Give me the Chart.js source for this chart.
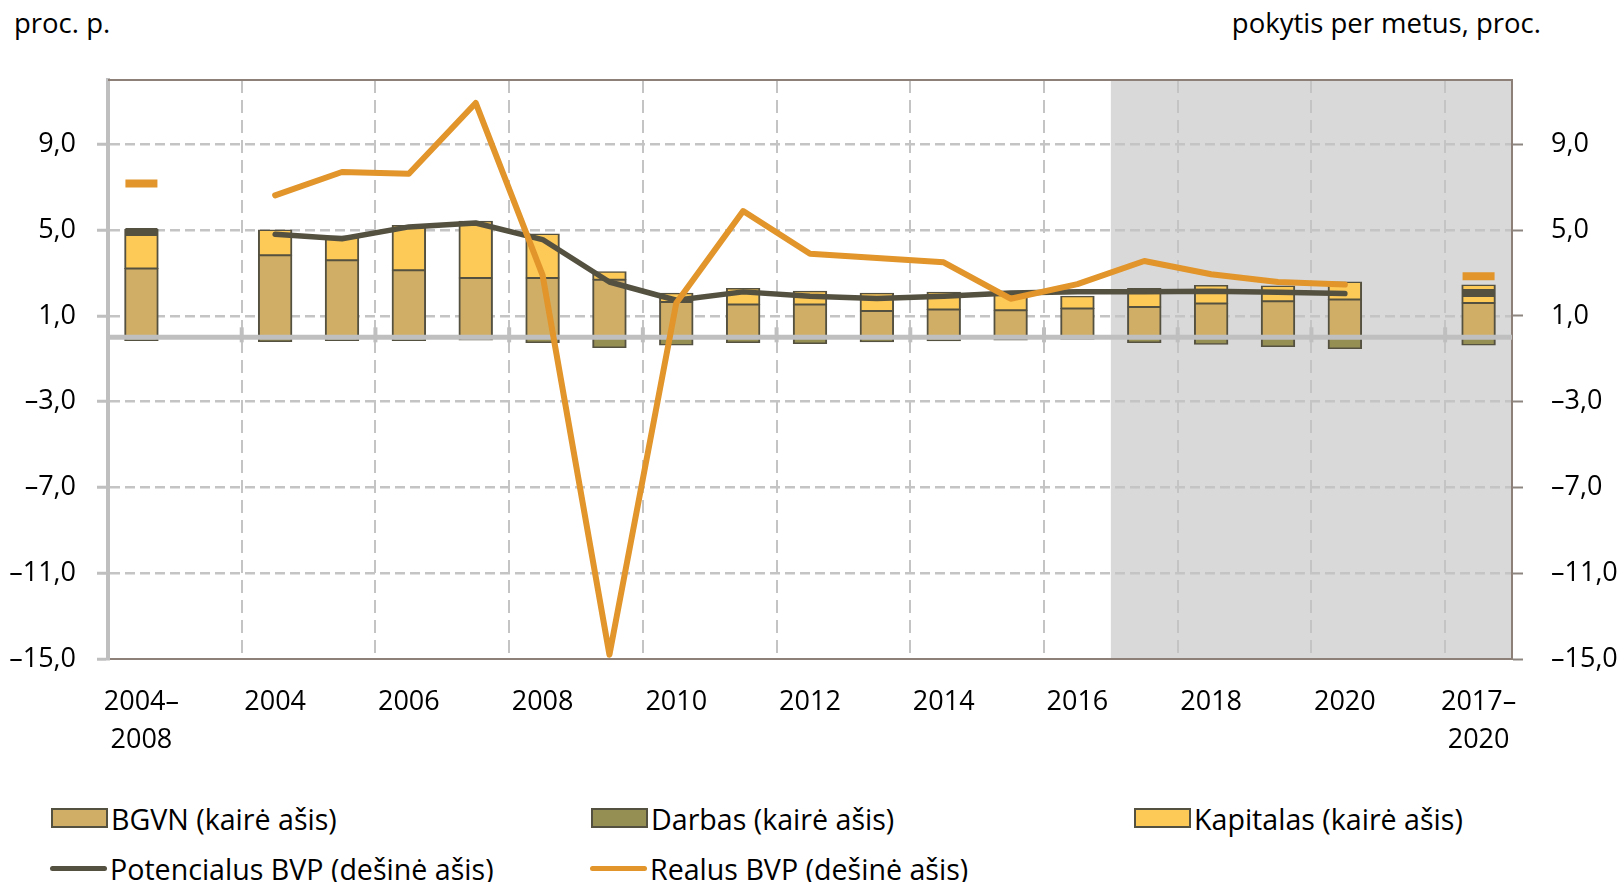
<!DOCTYPE html>
<html>
<head>
<meta charset="utf-8">
<script src="https://cdn.jsdelivr.net/npm/chart.js@4.4.1/dist/chart.umd.min.js"></script>
<style>
  html, body { margin: 0; padding: 0; background: #fff; }
  body { width: 1624px; height: 882px; position: relative; overflow: hidden; font-family: 'Open Sans', sans-serif; color: #000; }
  #chart { position: absolute; left: 0; top: 0; }
  .unit { position: absolute; font-size: 27.5px; line-height: 38px; top: 4px; white-space: nowrap; }
  .item { position: absolute; height: 38px; font-size: 28.6px; display: flex; align-items: center; white-space: nowrap; }
  .box { width: 53px; height: 16px; border: 2px solid #545141; margin-right: 3px; }
  .stroke { width: 57px; height: 5px; border-radius: 3px; margin-right: 3px; }
</style>
</head>
<body>
<div class="unit" style="left:14px">proc. p.</div>
<div class="unit" style="right:83px">pokytis per metus, proc.</div>
<canvas id="chart" width="1624" height="780"></canvas>

<div class="item" style="left:51px;top:799px"><div class="box" style="background:#D0AE66"></div>BGVN (kairė ašis)</div>
<div class="item" style="left:591px;top:799px"><div class="box" style="background:#968F53"></div>Darbas (kairė ašis)</div>
<div class="item" style="left:1134px;top:799px"><div class="box" style="background:#FDC957"></div>Kapitalas (kairė ašis)</div>
<div class="item" style="left:50px;top:849px"><div class="stroke" style="background:#545141"></div>Potencialus BVP (dešinė ašis)</div>
<div class="item" style="left:590px;top:849px"><div class="stroke" style="background:#E1952B"></div>Realus BVP (dešinė ašis)</div>

<script>
const categories = [['2004–', '2008'], '', '2004', '2005', '2006', '2007', '2008', '2009', '2010',
    '2011', '2012', '2013', '2014', '2015', '2016', '2017', '2018', '2019', '2020', '', ['2017–', '2020']];

const bgvn      = [3.21, null, 3.83, 3.59, 3.13, 2.77, 2.77, 2.69, 1.65, 1.53, 1.53, 1.23, 1.30, 1.26, 1.34, 1.42, 1.58, 1.68, 1.76, null, 1.60];
const darbas    = [-0.15, null, -0.19, -0.15, -0.15, -0.13, -0.24, -0.47, -0.36, -0.24, -0.29, -0.21, -0.16, -0.12, -0.09, -0.24, -0.32, -0.43, -0.52, null, -0.36];
const kapitalas = [1.82, null, 1.17, 1.13, 2.08, 2.64, 2.05, 0.37, 0.40, 0.75, 0.62, 0.82, 0.80, 0.85, 0.58, 0.86, 0.84, 0.71, 0.82, null, 0.84];

const potencialus = [4.91, null, 4.81, 4.60, 5.15, 5.33, 4.56, 2.58, 1.73, 2.12, 1.92, 1.81, 1.92, 2.07, 2.12, 2.12, 2.15, 2.10, 2.04, null, 2.07];
const realus      = [7.17, null, 6.62, 7.71, 7.63, 10.93, 2.90, -14.8, 1.60, 5.89, 3.90, 3.70, 3.50, 1.80, 2.48, 3.56, 2.94, 2.58, 2.46, null, 2.85];

const yTicks = [-15, -11, -7, -3, 1, 5, 9];
const periodIdx = [0, 20];   // averages drawn as short dashes
const shadeFrom = 15;        // forecast years 2017+

const FONT = "'Open Sans', sans-serif";
Chart.defaults.font.family = FONT;
Chart.defaults.color = '#000';

const fmt = v => v.toFixed(1).replace('.', ',').replace('-', '–');

const frame = {
    id: 'frame',
    beforeDraw(chart) {
        const {ctx, chartArea: a, scales: {x}} = chart;
        const step = x.getPixelForValue(1) - x.getPixelForValue(0);
        const left = x.getPixelForValue(shadeFrom) - step / 2;
        ctx.save();
        ctx.fillStyle = '#D9D9D9';
        ctx.fillRect(left, a.top, a.right - left, a.bottom - a.top);
        ctx.restore();
    },
    afterDatasetDraw(chart, args) {
        if (args.index !== 0) return;
        // zero line sits over the bars but under the lines
        const {ctx, chartArea: a, scales: {x, y}} = chart;
        const y0 = y.getPixelForValue(0);
        const step = x.getPixelForValue(1) - x.getPixelForValue(0);
        ctx.save();
        ctx.strokeStyle = '#BFBFBF';
        ctx.lineWidth = 5;
        ctx.beginPath();
        ctx.moveTo(a.left, y0);
        ctx.lineTo(a.right, y0);
        ctx.stroke();
        ctx.lineWidth = 4;
        for (let i = 2; i < categories.length; i += 2) {
            const px = x.getPixelForValue(i) - step / 2;
            ctx.beginPath();
            ctx.moveTo(px, y0 - 10);
            ctx.lineTo(px, y0 + 5);
            ctx.stroke();
        }
        ctx.restore();
    },
    afterDraw(chart) {
        const {ctx, chartArea: a} = chart;
        ctx.save();
        ctx.strokeStyle = '#8C8079';
        ctx.lineWidth = 2;
        ctx.beginPath();
        ctx.moveTo(a.left, a.top);
        ctx.lineTo(a.right + 1, a.top);
        ctx.stroke();
        ctx.restore();
    }
};

const barStyle = {
    type: 'bar',
    borderColor: '#545141',
    borderWidth: {top: 1.5, bottom: 1.5, left: 2, right: 2},
    borderSkipped: false,
    inflateAmount: 0.5,
    barPercentage: 0.5,
    categoryPercentage: 1,
    yAxisID: 'y',
    order: 2
};

const lineStyle = (color, width, order) => ({
    type: 'line',
    yAxisID: 'y1',
    borderColor: color,
    backgroundColor: color,
    borderWidth: width,
    borderCapStyle: 'round',
    borderJoinStyle: 'round',
    tension: 0,
    spanGaps: false,
    pointStyle: 'line',
    pointRadius: c => periodIdx.includes(c.dataIndex) ? 16 : 0,
    pointHoverRadius: 0,
    pointBorderWidth: 8,
    pointBorderColor: color,
    order: order
});

const yScale = (pos, w, extra) => Object.assign({
    position: pos,
    min: -15,
    max: 12,
    afterBuildTicks: axis => { axis.ticks = yTicks.map(v => ({value: v})); },
    afterFit: axis => { axis.width = w; }
}, extra);

new Chart(document.getElementById('chart'), {
    data: {
        labels: categories,
        datasets: [
            Object.assign({label: 'BGVN (kairė ašis)', data: bgvn, backgroundColor: '#D0AE66'}, barStyle),
            Object.assign({label: 'Darbas (kairė ašis)', data: darbas, backgroundColor: '#968F53'}, barStyle),
            Object.assign({label: 'Kapitalas (kairė ašis)', data: kapitalas, backgroundColor: '#FDC957'}, barStyle),
            Object.assign({label: 'Potencialus BVP (dešinė ašis)', data: potencialus}, lineStyle('#545141', 5.5, 1)),
            Object.assign({label: 'Realus BVP (dešinė ašis)', data: realus}, lineStyle('#E1952B', 6, 0))
        ]
    },
    options: {
        responsive: false,
        animation: false,
        layout: {padding: {top: 80, bottom: 19, left: 8, right: 6}},
        plugins: {legend: {display: false}, tooltip: {enabled: false}},
        scales: {
            x: {
                stacked: true,
                afterFit: axis => { axis.height = 102; },
                grid: {
                    offset: true,
                    drawTicks: false,
                    lineWidth: 2,
                    color: c => (c.index > 0 && c.index % 2 === 0 && c.index < categories.length) ? '#C4C4C4' : 'transparent'
                },
                border: {color: '#8C8079', width: 2, dash: [13, 7]},
                ticks: {
                    autoSkip: false,
                    maxRotation: 0,
                    padding: 24,
                    font: {size: 27, lineHeight: 1.42},
                    callback: (v, i) => i % 2 === 0 ? categories[i] : ''
                }
            },
            y: yScale('left', 100, {
                stacked: true,
                ticks: {callback: fmt, font: {size: 27}, padding: 21},
                grid: {
                    color: c => c.tick && c.tick.value === -15 ? 'transparent' : '#C4C4C4',
                    lineWidth: 2.5,
                    tickColor: '#BFBFBF',
                    tickLength: 11,
                    tickWidth: 3
                },
                border: {color: '#BFBFBF', width: 4, dash: [10, 5]}
            }),
            y1: yScale('right', 106, {
                ticks: {callback: fmt, font: {size: 27}, padding: 28},
                grid: {drawOnChartArea: false, tickColor: '#8C8580', tickLength: 11, tickWidth: 2},
                border: {color: '#8C8079', width: 2}
            })
        }
    },
    plugins: [frame]
});
</script>
</body>
</html>
